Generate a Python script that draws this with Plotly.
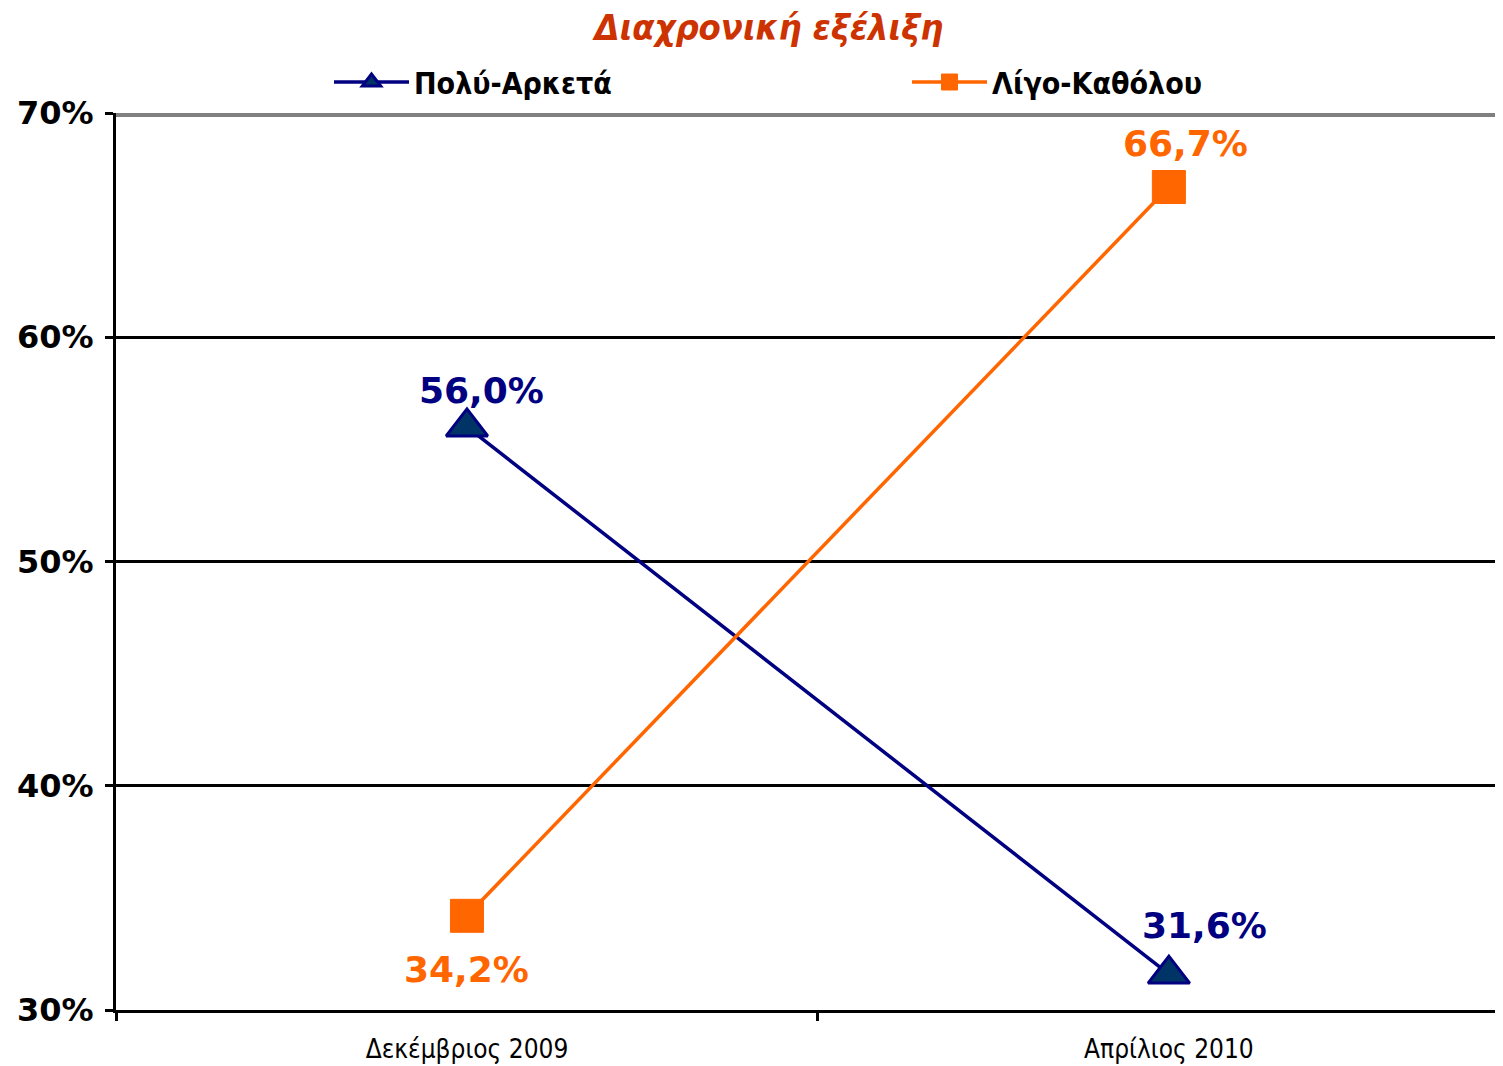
import plotly.graph_objects as go

periods = ["Δεκέμβριος 2009", "Απρίλιος 2010"]
poly_arketa = [0.560, 0.316]
ligo_katholou = [0.342, 0.667]

# label offsets (px) relative to each point
poly_shift = [(15, 36), (36, 49)]
ligo_shift = [(0, -54), (17, 44)]

NAVY = "#000080"
ORANGE = "#FF6600"
BOLD = "DejaVu Sans, Verdana, sans-serif"
COND = "DejaVu Sans Condensed, Arial Narrow, sans-serif"

W, H = 1495, 1058  # page adds an 8px body margin


def pct(v):
    return f"{v * 100:.1f}".replace(".", ",") + "%"


fig = go.Figure()
fig.add_trace(go.Scatter(
    x=periods, y=poly_arketa, mode="lines+markers", name="Πολύ-Αρκετά",
    line=dict(color=NAVY, width=3.5),
    marker=dict(symbol="triangle-up", size=36, color="#003366", line=dict(color=NAVY, width=3)),
))
fig.add_trace(go.Scatter(
    x=periods, y=ligo_katholou, mode="lines+markers", name="Λίγο-Καθόλου",
    line=dict(color=ORANGE, width=3.5),
    marker=dict(symbol="square", size=33, color=ORANGE, line=dict(color=ORANGE, width=1)),
))

for vals, shifts, col in [(poly_arketa, poly_shift, NAVY), (ligo_katholou, ligo_shift, ORANGE)]:
    for p, v, (dx, dy) in zip(periods, vals, shifts):
        fig.add_annotation(x=p, y=v, text=pct(v), showarrow=False, xshift=dx, yshift=dy,
                           font=dict(family=BOLD, size=36, color=col, weight="bold"))

# grey top border line
fig.add_shape(type="line", xref="paper", x0=0, x1=1, yref="y", y0=0.7, y1=0.7,
              line=dict(color="#808080", width=8))

fig.update_layout(
    width=W, height=H,
    paper_bgcolor="white", plot_bgcolor="white",
    margin=dict(l=108, r=0, t=105, b=56, autoexpand=False),
    title=dict(text="<b><i>Διαχρονική εξέλιξη</i></b>", xref="container", x=761 / W, xanchor="center",
               yref="container", y=1 - 19 / H, yanchor="middle",
               font=dict(family=COND, size=36, color="#CC3300")),
    legend=dict(orientation="h", xref="container", yref="container",
                x=321 / W, y=1 - 74 / H, yanchor="middle", xanchor="left",
                entrywidth=488, entrywidthmode="pixels", itemwidth=75,
                font=dict(family=COND, size=30, color="black", weight="bold"),
                bgcolor="rgba(0,0,0,0)"),
    xaxis=dict(type="category", range=[-0.5, 1.476], tickson="boundaries",
               showline=True, linecolor="black", linewidth=3,
               ticks="outside", ticklen=8, tickwidth=3, tickcolor="black",
               ticklabelstandoff=14,
               showgrid=False, tickfont=dict(family=COND, size=26, color="black")),
    yaxis=dict(range=[0.3, 0.7], tickvals=[0.3, 0.4, 0.5, 0.6, 0.7], tickformat=".0%",
               showline=True, linecolor="black", linewidth=3,
               ticks="outside", ticklen=8, tickwidth=3, tickcolor="black",
               ticklabelstandoff=5,
               showgrid=True, gridcolor="black", gridwidth=3, zeroline=False,
               tickfont=dict(family=BOLD, size=32, color="black", weight="bold")),
)

fig.write_html("out.html")
